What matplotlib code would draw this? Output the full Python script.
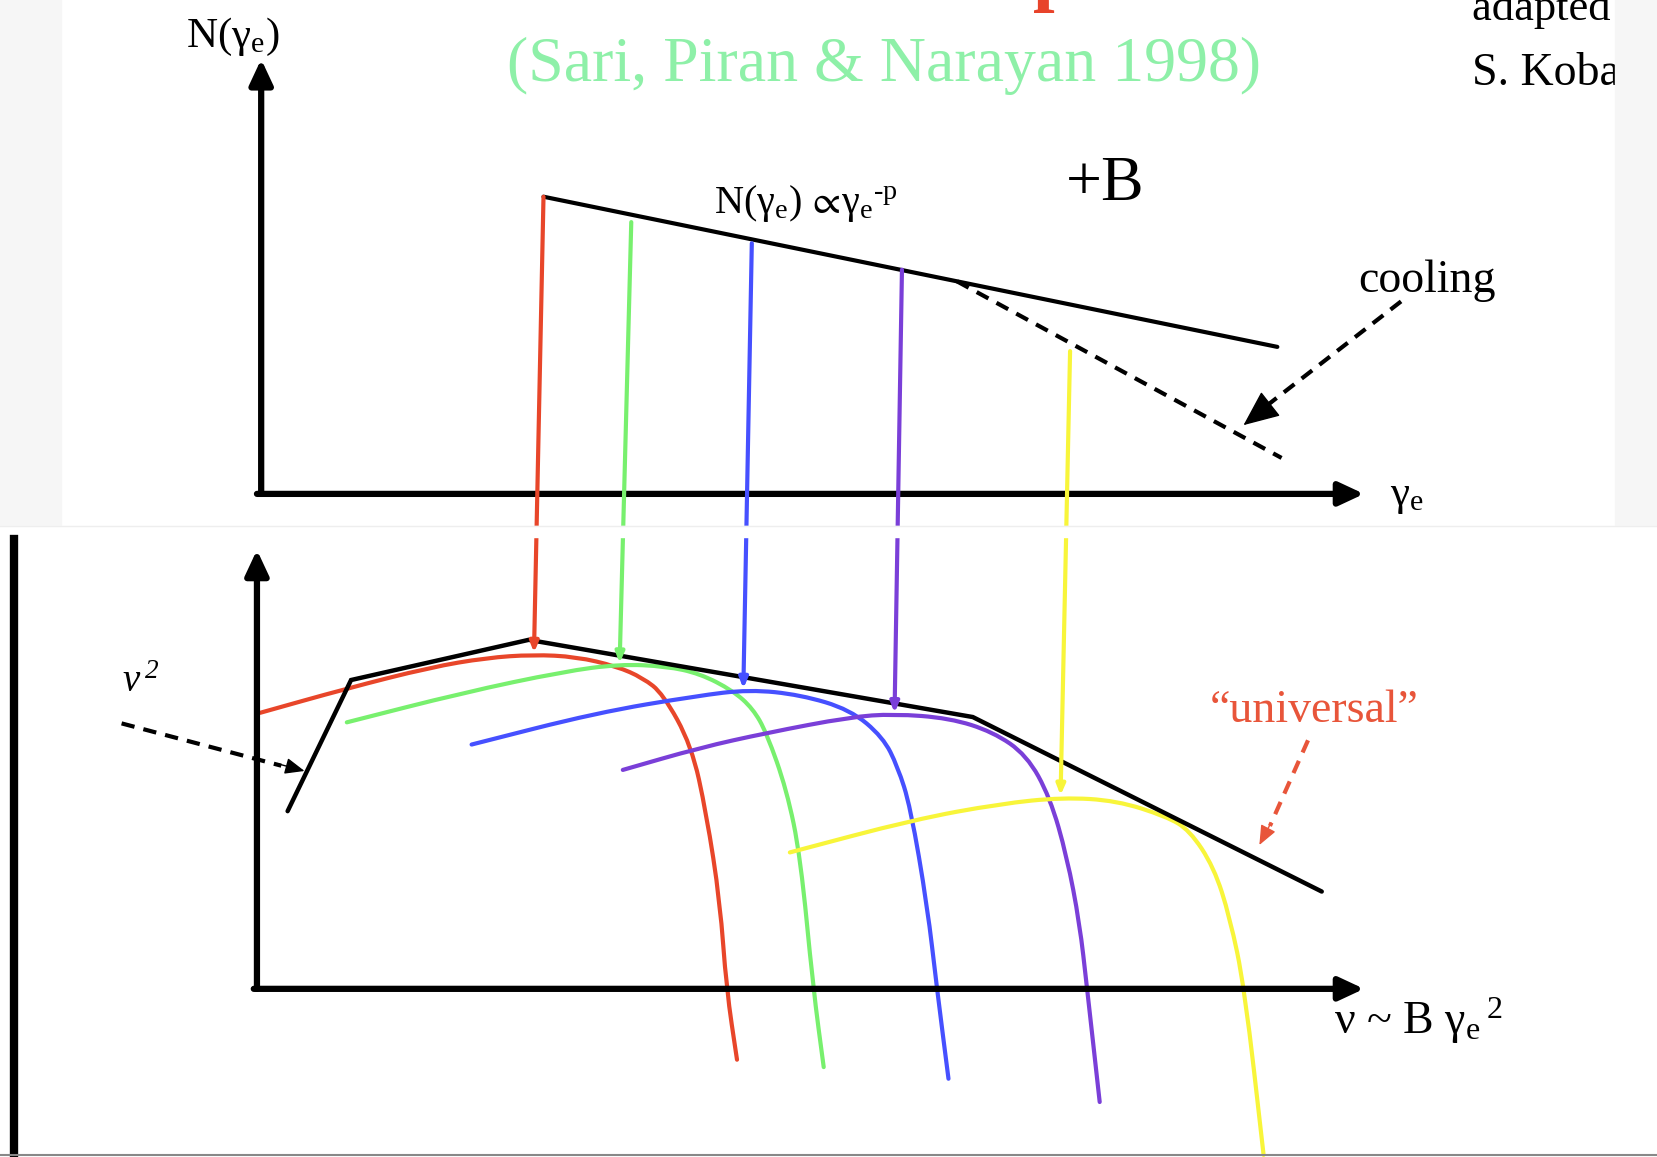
import matplotlib
matplotlib.use("Agg")
import matplotlib.pyplot as plt
from matplotlib.patches import Rectangle, PathPatch
from matplotlib.path import Path

plt.rcParams['font.family'] = ['Liberation Serif', 'DejaVu Serif']
plt.rcParams['mathtext.default'] = 'regular'

# ---------- data (picture coordinates, y grows downwards) ----------
# top panel: electron distribution
powerlaw_x = [514, 1208]
powerlaw_y = [186, 328]
cooled_x = [905, 1212]
cooled_y = [266, 433]

# bottom panel: envelope of the spectrum
env_x = [272, 332, 500, 920, 1250]
env_y = [767, 643, 605, 678, 843]

# single-electron spectra
red_x = [246, 328, 407, 460, 504, 545, 583, 608, 627, 654, 668, 681, 687, 697]
red_y = [674, 651, 631, 622, 619, 621, 630, 641, 656, 705, 769, 853, 935, 1002]
green_x = [328, 438, 533, 586, 630, 662, 693, 712, 725, 744, 757, 769, 779]
green_y = [683, 655, 635, 628, 630, 637, 653, 670, 693, 747, 810, 934, 1009]
blue_x = [446, 564, 659, 709, 757, 804, 835, 849, 861, 877, 886, 897]
blue_y = [704, 674, 658, 652, 657, 671, 697, 725, 763, 857, 934, 1020]
purple_x = [589, 662, 725, 804, 845, 898, 939, 971, 993, 1009, 1021, 1028, 1040]
purple_y = [728, 707, 693, 678, 675, 679, 692, 714, 754, 810, 873, 934, 1042]
yellow_x = [747, 864, 946, 1005, 1056, 1103, 1125, 1148, 1163, 1177, 1195]
yellow_y = [806, 775, 760, 754, 757, 772, 785, 820, 867, 934, 1092]

# vertical mapping arrows gamma_e -> nu
map_top_x = [514, 597, 711, 853, 1012]
map_top_y = [186, 210, 230, 255, 332]
map_tip_x = [505, 586, 703, 846, 1003]
map_tip_y = [617, 627, 651, 674, 752]

colors = ['#e8462a', '#78f06e', '#4650ff', '#7a3fd8', '#f8f53a']
curves = [(red_x, red_y), (green_x, green_y), (blue_x, blue_y),
          (purple_x, purple_y), (yellow_x, yellow_y)]

W, H = 1568, 1094

fig = plt.figure(figsize=(16.58, 11.57), dpi=100)
ax = fig.add_axes([0, 0, 1, 1])
ax.set_xlim(0, W)
ax.set_ylim(H, 0)
ax.axis('off')

# background strips of the pasted slide images
ax.add_patch(Rectangle((0, 0), 58, 497, color='#f6f6f6', zorder=0))
ax.add_patch(Rectangle((1527, 0), W - 1527, 497, color='#f6f6f6', zorder=6))


def axis_arrow(x0, y0, x1, y1):
    ax.annotate('', xy=(x1, y1), xytext=(x0, y0), zorder=3,
                arrowprops=dict(arrowstyle='-|>,head_length=1.5,head_width=0.7',
                                color='black', lw=4.5, shrinkA=0, shrinkB=0))


def smooth_curve(xs, ys, color):
    # quadratic bezier through the read points (points used as control points)
    verts = [(xs[0], ys[0])]
    codes = [Path.MOVETO]
    verts.append(((xs[0] + xs[1]) / 2, (ys[0] + ys[1]) / 2))
    codes.append(Path.LINETO)
    for i in range(1, len(xs) - 1):
        verts += [(xs[i], ys[i]), ((xs[i] + xs[i + 1]) / 2, (ys[i] + ys[i + 1]) / 2)]
        codes += [Path.CURVE3, Path.CURVE3]
    verts.append((xs[-1], ys[-1]))
    codes.append(Path.LINETO)
    ax.add_patch(PathPatch(Path(verts, codes), facecolor='none', edgecolor=color,
                           lw=3, capstyle='round', joinstyle='round', zorder=2))


# ---------- top panel ----------
axis_arrow(247, 467, 247, 56)
axis_arrow(243, 467, 1290, 467)

ax.plot(powerlaw_x, powerlaw_y, color='black', lw=3, solid_capstyle='round', zorder=3)
ax.plot(cooled_x, cooled_y, color='black', lw=3, ls=(0, (3.2, 2.2)), zorder=3)

for tx, ty, bx, by, c in zip(map_top_x, map_top_y, map_tip_x, map_tip_y, colors):
    ax.annotate('', xy=(bx, by), xytext=(tx, ty), zorder=4,
                arrowprops=dict(arrowstyle='-|>,head_length=0.6,head_width=0.25',
                                color=c, lw=3, shrinkA=0, shrinkB=0))

# cooling arrow
ax.plot([1325, 1200], [285, 382], color='black', lw=3, ls=(0, (3.2, 2.2)), zorder=3)
ax.annotate('', xy=(1176, 402), xytext=(1204, 380), zorder=3,
            arrowprops=dict(arrowstyle='-|>,head_length=2.3,head_width=1.0',
                            color='black', lw=1, shrinkA=0, shrinkB=0))

ax.text(220, 35, r'N($\gamma_e$)', fontsize=31, ha='center', va='center')
ax.text(836, 62, '(Sari, Piran & Narayan 1998)', fontsize=46, color='#8ef0a8',
        ha='center', va='center')
ax.text(997, -4, 'p', fontsize=56, color='#e8432a', ha='center', va='baseline',
        fontweight='bold')
ax.text(1392, 19, 'adapted from', fontsize=32, ha='left', va='baseline', zorder=5)
ax.text(1392, 80, 'S. Kobayashi', fontsize=33, ha='left', va='baseline', zorder=5)
ax.text(1045, 175, '+B', fontsize=46, ha='center', va='center')
ax.text(762, 192, 'N($\\gamma_e$) $\\!\\propto\\!\\gamma_e$$^{\u2010p}$', fontsize=29,
        ha='center', va='center')
ax.text(1350, 265, 'cooling', fontsize=33, ha='center', va='center')
ax.text(1315, 470, r'$\gamma_e$', fontsize=31, ha='left', va='center')

# ---------- gap between the two pasted images ----------
ax.add_patch(Rectangle((0, 497), W, 11, color='white', zorder=7))
ax.plot([0, W], [497, 497], color='#eeeeee', lw=1, zorder=7)
ax.plot([13, 13], [510, H], color='black', lw=6, zorder=7)
ax.plot([0, W], [H - 2, H - 2], color='#888888', lw=1.5, zorder=7)

# ---------- bottom panel ----------
axis_arrow(243, 935, 243, 520)
axis_arrow(240, 935, 1290, 935)

ax.plot(env_x, env_y, color='black', lw=3.2, solid_joinstyle='miter',
        solid_capstyle='round', zorder=3)

for (cx, cy), c in zip(curves, colors):
    smooth_curve(cx, cy, c)

# nu^2 arrow
ax.plot([115, 266], [684, 724], color='black', lw=3, ls=(0, (3.2, 2.2)), zorder=3)
ax.annotate('', xy=(288, 729), xytext=(262, 722), zorder=3,
            arrowprops=dict(arrowstyle='-|>,head_length=1.2,head_width=0.5',
                            color='black', lw=1, shrinkA=0, shrinkB=0))

# "universal" arrow
red_txt = '#e8553a'
ax.plot([1237, 1201], [700, 781], color=red_txt, lw=3, ls=(0, (3.2, 2.2)), zorder=3)
ax.annotate('', xy=(1191, 799), xytext=(1202, 778), zorder=3,
            arrowprops=dict(arrowstyle='-|>,head_length=1.2,head_width=0.5',
                            color=red_txt, lw=1, shrinkA=0, shrinkB=0))

ax.text(133, 645, r'ν$^{\,2}$', fontsize=28, fontstyle='italic', ha='center', va='center')
ax.text(1243, 672, '\u201cuniversal\u201d', fontsize=33, color=red_txt,
        ha='center', va='center')
ax.text(1262, 965, r'ν ~ B $\gamma_e$$^{\,2}$', fontsize=33, ha='left', va='center')

fig.savefig('out.png', dpi=100)
